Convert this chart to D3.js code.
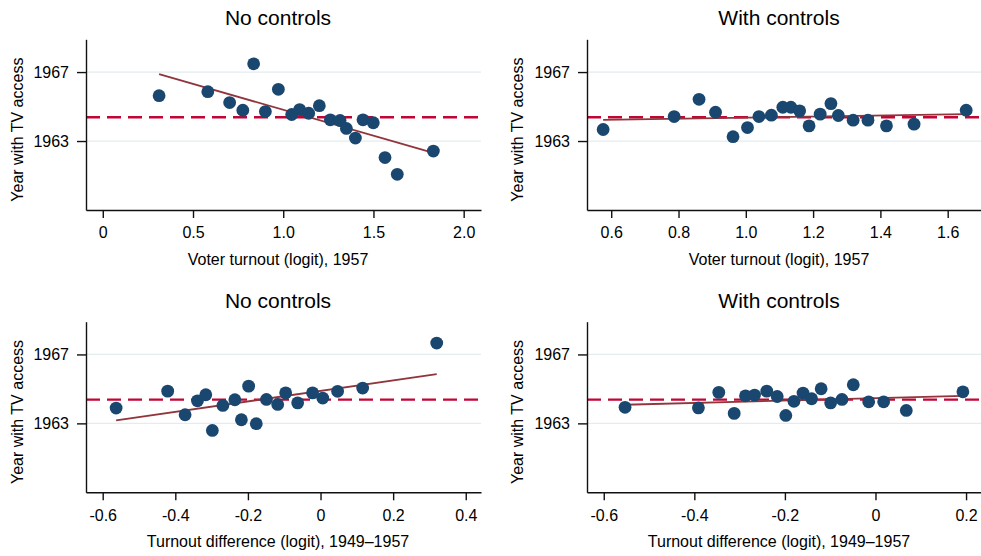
<!DOCTYPE html>
<html>
<head>
<meta charset="utf-8">
<script src="https://cdn.jsdelivr.net/npm/d3@7"></script>
<style>
  body { margin: 0; background: #fff; }
  svg { display: block; font-family: "Liberation Sans", Arial, Helvetica, sans-serif; }
</style>
</head>
<body>
<div id="chart"></div>
<script>
// Values

// Top left: turnout 1957, no controls
const turnoutNoCtrlX = [0.312, 0.582, 0.703, 0.776, 0.836, 0.901, 0.973, 1.047, 1.091, 1.141,
    1.200, 1.261, 1.315, 1.350, 1.400, 1.442, 1.499, 1.564, 1.632, 1.832];
const turnoutNoCtrlY = [1965.63, 1965.86, 1965.23, 1964.79, 1967.48, 1964.71, 1966.00, 1964.54, 1964.82, 1964.61,
    1965.05, 1964.23, 1964.19, 1963.73, 1963.17, 1964.23, 1964.06, 1962.04, 1961.07, 1962.42];
const turnoutNoCtrlFit = [[0.312, 1966.88], [1.832, 1962.31]];

// Top right: turnout 1957, with controls
const turnoutCtrlX = [0.576, 0.787, 0.861, 0.910, 0.962, 1.005, 1.039, 1.076, 1.110, 1.134,
    1.160, 1.188, 1.221, 1.253, 1.275, 1.319, 1.363, 1.418, 1.500, 1.655];
const turnoutCtrlY = [1963.67, 1964.42, 1965.42, 1964.67, 1963.25, 1963.78, 1964.42, 1964.50, 1964.96, 1964.96,
    1964.75, 1963.88, 1964.56, 1965.17, 1964.48, 1964.21, 1964.21, 1963.88, 1963.98, 1964.79];
const turnoutCtrlFit = [[0.576, 1964.23], [1.655, 1964.56]];

// Bottom left: turnout difference, no controls
const diffNoCtrlX = [-0.563, -0.421, -0.373, -0.339, -0.316, -0.298, -0.269, -0.236, -0.218, -0.198,
    -0.177, -0.149, -0.118, -0.096, -0.063, -0.022, 0.006, 0.047, 0.116, 0.320];
const diffNoCtrlY = [1963.89, 1964.87, 1963.50, 1964.31, 1964.66, 1962.59, 1964.04, 1964.37, 1963.21, 1965.16,
    1962.98, 1964.39, 1964.10, 1964.77, 1964.19, 1964.77, 1964.47, 1964.86, 1965.05, 1967.66];
const diffNoCtrlFit = [[-0.563, 1963.17], [0.320, 1965.86]];

// Bottom right: turnout difference, with controls
const diffCtrlX = [-0.553, -0.391, -0.346, -0.312, -0.287, -0.267, -0.240, -0.217, -0.198, -0.180,
    -0.160, -0.141, -0.120, -0.099, -0.074, -0.049, -0.015, 0.018, 0.068, 0.193];
const diffCtrlY = [1963.93, 1963.90, 1964.80, 1963.58, 1964.60, 1964.64, 1964.87, 1964.56, 1963.46, 1964.28,
    1964.76, 1964.43, 1965.01, 1964.19, 1964.39, 1965.24, 1964.25, 1964.25, 1963.75, 1964.83];
const diffCtrlFit = [[-0.553, 1964.08], [0.193, 1964.60]];

const meanYear = 1964.38;
const yDomain = [1959.0, 1968.9];
const yTicks = [1963, 1967];

const ticksTurnoutNoCtrl = [0, 0.5, 1.0, 1.5, 2.0];
const labelsTurnoutNoCtrl = ["0", "0.5", "1.0", "1.5", "2.0"];
const ticksTurnoutCtrl = [0.6, 0.8, 1.0, 1.2, 1.4, 1.6];
const labelsTurnoutCtrl = ["0.6", "0.8", "1.0", "1.2", "1.4", "1.6"];
const ticksDiffNoCtrl = [-0.6, -0.4, -0.2, 0, 0.2, 0.4];
const labelsDiffNoCtrl = ["-0.6", "-0.4", "-0.2", "0", "0.2", "0.4"];
const ticksDiffCtrl = [-0.6, -0.4, -0.2, 0, 0.2];
const labelsDiffCtrl = ["-0.6", "-0.4", "-0.2", "0", "0.2"];

const yTitle = "Year with TV access";

const width = 981, height = 556;

const svg = d3.select("#chart").append("svg")
    .attr("width", width)
    .attr("height", height);

// plot regions
const cols = [{ left: 86, right: 481, titleX: 278, yTitleX: 23 },
              { left: 587, right: 981, titleX: 779, yTitleX: 523 }];
const rows = [{ top: 39.3, bottom: 210, titleY: 25 },
              { top: 321.7, bottom: 492.3, titleY: 308 }];

const panels = [
    { col: 0, row: 0, title: "No controls", xTitle: "Voter turnout (logit), 1957",
      xs: turnoutNoCtrlX, ys: turnoutNoCtrlY, fit: turnoutNoCtrlFit,
      xDomain: [-0.093, 2.096], ticks: ticksTurnoutNoCtrl, labels: labelsTurnoutNoCtrl },
    { col: 1, row: 0, title: "With controls", xTitle: "Voter turnout (logit), 1957",
      xs: turnoutCtrlX, ys: turnoutCtrlY, fit: turnoutCtrlFit,
      xDomain: [0.528, 1.699], ticks: ticksTurnoutCtrl, labels: labelsTurnoutCtrl },
    { col: 0, row: 1, title: "No controls", xTitle: "Turnout difference (logit), 1949\u20131957",
      xs: diffNoCtrlX, ys: diffNoCtrlY, fit: diffNoCtrlFit,
      xDomain: [-0.646, 0.442], ticks: ticksDiffNoCtrl, labels: labelsDiffNoCtrl },
    { col: 1, row: 1, title: "With controls", xTitle: "Turnout difference (logit), 1949\u20131957",
      xs: diffCtrlX, ys: diffCtrlY, fit: diffCtrlFit,
      xDomain: [-0.637, 0.233], ticks: ticksDiffCtrl, labels: labelsDiffCtrl }
];

panels.forEach(p => {
    const c = cols[p.col], r = rows[p.row];
    const g = svg.append("g");

    const x = d3.scaleLinear().domain(p.xDomain).range([c.left, c.right]);
    const y = d3.scaleLinear().domain(yDomain).range([r.bottom, r.top]);

    // gridlines
    g.selectAll(".grid")
        .data(yTicks)
        .enter().append("line")
        .attr("x1", c.left).attr("x2", c.right)
        .attr("y1", d => y(d)).attr("y2", d => y(d))
        .attr("stroke", "#e3ecee")
        .attr("stroke-width", 1.3);

    // mean line
    g.append("line")
        .attr("x1", c.left).attr("x2", c.right)
        .attr("y1", y(meanYear)).attr("y2", y(meanYear))
        .attr("stroke", "#c10534")
        .attr("stroke-width", 2.4)
        .attr("stroke-dasharray", "14,7");

    // fit line
    g.append("line")
        .attr("x1", x(p.fit[0][0])).attr("y1", y(p.fit[0][1]))
        .attr("x2", x(p.fit[1][0])).attr("y2", y(p.fit[1][1]))
        .attr("stroke", "#90353b")
        .attr("stroke-width", 1.8);

    // dots
    g.selectAll(".dot")
        .data(p.xs.map((d, i) => [d, p.ys[i]]))
        .enter().append("circle")
        .attr("cx", d => x(d[0]))
        .attr("cy", d => y(d[1]))
        .attr("r", 6.4)
        .attr("fill", "#1a476f");

    // axes
    const xAxis = d3.axisBottom(x)
        .tickValues(p.ticks)
        .tickFormat((d, i) => p.labels[i])
        .tickSize(8)
        .tickSizeOuter(0)
        .tickPadding(9);

    const yAxis = d3.axisLeft(y)
        .tickValues(yTicks)
        .tickFormat(d3.format("d"))
        .tickSize(9)
        .tickSizeOuter(0)
        .tickPadding(8);

    const gx = g.append("g")
        .attr("transform", "translate(0," + r.bottom + ")")
        .call(xAxis);
    const gy = g.append("g")
        .attr("transform", "translate(" + c.left + ",0)")
        .call(yAxis);

    [gx, gy].forEach(a => {
        a.selectAll("path, line").attr("stroke", "#111").attr("stroke-width", 1.4);
        a.selectAll("text").attr("font-size", 16).attr("fill", "#000")
            .attr("font-family", "'Liberation Sans', Arial, Helvetica, sans-serif");
    });

    // titles
    g.append("text")
        .attr("x", c.titleX)
        .attr("y", r.titleY)
        .attr("text-anchor", "middle")
        .attr("font-size", 21)
        .text(p.title);

    g.append("text")
        .attr("x", c.titleX)
        .attr("y", r.bottom + 55)
        .attr("text-anchor", "middle")
        .attr("font-size", 16)
        .text(p.xTitle);

    g.append("text")
        .attr("transform", "translate(" + c.yTitleX + "," + ((r.top + r.bottom) / 2 + 5) + ") rotate(-90)")
        .attr("text-anchor", "middle")
        .attr("font-size", 16)
        .text(yTitle);
});
</script>
</body>
</html>
